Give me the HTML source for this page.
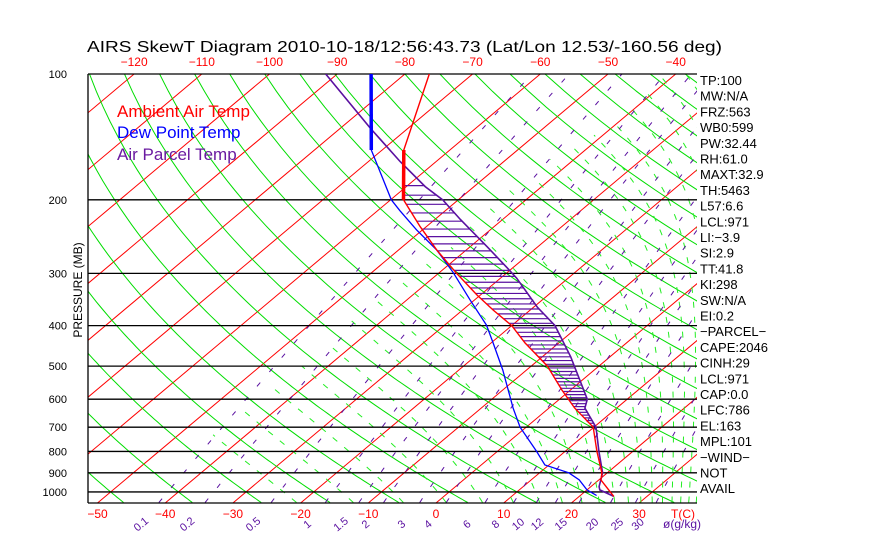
<!DOCTYPE html>
<html><head><meta charset="utf-8"><style>
html,body{margin:0;padding:0;background:#fff;}
svg{display:block;font-family:"Liberation Sans",sans-serif;}
</style></head><body>
<svg id="chart" width="870" height="560" viewBox="0 0 870 560" xmlns="http://www.w3.org/2000/svg">
<defs><clipPath id="plotclip"><rect x="88" y="74" width="609" height="429"/></clipPath></defs>
<text x="87" y="52" font-size="16" textLength="635" lengthAdjust="spacingAndGlyphs">AIRS SkewT Diagram 2010-10-18/12:56:43.73 (Lat/Lon 12.53/-160.56 deg)</text>
<g id="bg" clip-path="url(#plotclip)"></g>
<g id="grid"></g>
<g id="prof" clip-path="url(#plotclip)"></g>
<g id="labels"></g>
<text x="0" y="0" font-size="12" text-anchor="middle" transform="translate(82,290) rotate(-90)">PRESSURE (MB)</text>
<text x="117" y="117" font-size="17" fill="#ff0000">Ambient Air Temp</text>
<text x="117" y="138" font-size="17" fill="#0000ff">Dew Point Temp</text>
<text x="117" y="160" font-size="17" fill="#6a1aa0">Air Parcel Temp</text>
<g id="stats"></g>
</svg>
<script>
const ambP=[100,152,200,232,264,300,338,367,400,440,500,570,630,700,800,900,936,1025];
const ambT=[-76.4,-66.8,-58.1,-50.9,-44.3,-37.3,-30.5,-25.5,-20.0,-15.0,-7.6,-1.3,3.8,9.9,14.7,19.2,20.3,25.1];
const dewP=[100,152,200,212,236,264,299,347,399,440,511,630,700,800,862,900,936,989,1020];
const dewT=[-85.0,-71.6,-59.9,-56.8,-50.9,-44.3,-37.9,-30.7,-23.8,-19.7,-13.5,-5.3,-0.9,5.8,9.4,14.3,17.1,20.0,22.4];
const parP=[100,135,162,186,200,223,259,291,308,361,400,475,600,630,700,800,900,971,989,1025];
const parT=[-91.7,-75.5,-65.3,-57.2,-52.3,-46.2,-37.5,-30.8,-27.6,-19.5,-13.6,-5.8,4.1,5.3,10.3,15.0,19.3,21.2,21.9,25.1];
const pLevels=[100,200,300,400,500,600,700,800,900,1000];
const bottomTicks=[-50,-40,-30,-20,-10,0,10,20,30];
const topTicks=[-120,-110,-100,-90,-80,-70,-60,-50,-40];
const mixRatios=[0.1,0.2,0.5,1,1.5,2,3,4,6,8,10,12,15,20,25,30];
const mixLabels=["0.1","0.2","0.5","1","1.5","2","3","4","6","8","10","12","15","20","25","30"];
const statLines=["TP:100","MW:N/A","FRZ:563","WB0:599","PW:32.44","RH:61.0","MAXT:32.9","TH:5463","L57:6.6","LCL:971","LI:\u22123.9","SI:2.9","TT:41.8","KI:298","SW:N/A","EI:0.2","\u2212PARCEL\u2212","CAPE:2046","CINH:29","LCL:971","CAP:0.0","LFC:786","EL:163","MPL:101","\u2212WIND\u2212"," NOT"," AVAIL"];

const NS="http://www.w3.org/2000/svg";
const Y0=74,YB=503,SC=181.5,X0=436,DX=6.77,SK=1.19;
function yP(p){return Y0+SC*Math.log(p/100);}
function xT(t,y){return X0+DX*t+(YB-y)*SK;}
function mk(tag,parent,attrs){const e=document.createElementNS(NS,tag);for(const k in attrs)e.setAttribute(k,attrs[k]);parent.appendChild(e);return e;}
function pathFrom(pts){return pts.map((q,i)=>(i?'L':'M')+q[0].toFixed(1)+' '+q[1].toFixed(1)).join(' ');}
const bg=document.getElementById('bg'),grid=document.getElementById('grid'),prof=document.getElementById('prof'),labels=document.getElementById('labels'),stats=document.getElementById('stats');

for(let t=-170;t<=50;t+=10){
  const l=mk('line',bg,{x1:xT(t,YB),y1:YB,x2:xT(t,Y0),y2:Y0,stroke:'#ff0000','stroke-width':1});
  
  
}
for(let n=-12;n<=22;n++){
  const th=273.15+10*n;const pts=[];
  for(let p=1060;p>=95;p-=10){const T=th*Math.pow(p/1000,0.286)-273.15;const y=yP(p);pts.push([xT(T,y),y]);}
  const e=mk('path',bg,{d:pathFrom(pts),fill:'none',stroke:'#00dd00','stroke-width':1});
  
  
}
function esat(tc){return 6.112*Math.exp(17.67*tc/(tc+243.5));}
function thetaE(tc,p){const T=tc+273.15;const e=esat(tc);const rs=0.622*e/Math.max(p-e,1);return T*Math.pow(1000/p,0.286)*Math.exp(2.5e6*rs/(1004*T));}
function solveTE(te,p){let lo=-150,hi=50;for(let i=0;i<50;i++){const m=(lo+hi)/2;if(thetaE(m,p)<te)lo=m;else hi=m;}return (lo+hi)/2;}
for(let te=250;te<=460;te+=10){
  const pts=[];
  for(let p=1060;p>=95;p-=10){const T=solveTE(te,p);if(T<-45)break;const y=yP(p);pts.push([xT(T,y),y]);}
  if(pts.length<2)continue;
  const e=mk('path',bg,{d:pathFrom(pts),fill:'none',stroke:'#22ee22','stroke-width':1,'stroke-dasharray':'6,9'});
  
  
}
function mixT(w,p){const ww=w/1000;const e=ww*p/(0.622+ww);const L=Math.log(e/6.112);return 243.5*L/(17.67-L);}
mixRatios.forEach((w,i)=>{
  const pts=[];
  for(let p=1060;p>=95;p-=10){const T=mixT(w,p);const y=yP(p);pts.push([xT(T,y),y]);}
  const e=mk('path',bg,{d:pathFrom(pts),fill:'none',stroke:'#5a10a0','stroke-width':1,'stroke-dasharray':'5,14'});
  
  
  const yb=yP(1050);const xb=xT(mixT(w,1050),yb)-17;
  const tx=mk('text',labels,{x:0,y:0,'font-size':11,fill:'#5a10a0','text-anchor':'middle',transform:'translate('+xb.toFixed(1)+',527) rotate(-40)'});
  tx.textContent=mixLabels[i];
  
  
});
const ml=mk('text',labels,{x:663,y:528,'font-size':12,fill:'#5a10a0'});ml.textContent='\u00f8(g/kg)';



pLevels.forEach(p=>{
  const y=yP(p);
  const l=mk('line',grid,{x1:88,y1:y,x2:697,y2:y,stroke:'#000','stroke-width':1.3});
  
  
  const t=mk('text',labels,{x:67,y:y+4,'font-size':11,'text-anchor':'end'});t.textContent=p;
  
  
});
const lb=mk('line',grid,{x1:88,y1:74,x2:88,y2:503,stroke:'#000','stroke-width':1.3});


const bb=mk('line',grid,{x1:88,y1:503,x2:697,y2:503,stroke:'#000','stroke-width':1.3});



bottomTicks.forEach(t=>{
  const e=mk('text',labels,{x:xT(t,YB),y:518,'font-size':12,fill:'#ff0000','text-anchor':'middle'});e.textContent=t<0?'\u2212'+(-t):t;
  
  
});
const tc=mk('text',labels,{x:683,y:518,'font-size':12,fill:'#ff0000','text-anchor':'middle'});tc.textContent='T(C)';


topTicks.forEach(t=>{
  const e=mk('text',labels,{x:xT(t,Y0),y:66,'font-size':12,fill:'#ff0000','text-anchor':'middle'});e.textContent='\u2212'+(-t);
  
  
});

function interp(P,T,p){const lp=Math.log(p);for(let i=0;i<P.length-1;i++){const a=Math.log(P[i]),b=Math.log(P[i+1]);if(lp>=a&&lp<=b){return T[i]+(T[i+1]-T[i])*(lp-a)/(b-a);}}return null;}
for(let p=705;p>=180;p-=10){
  const a=interp(ambP,ambT,p),b=interp(parP,parT,p);if(a===null||b===null||b<=a)continue;
  const y=yP(p);
  const h=mk('line',prof,{x1:xT(a,y),y1:y,x2:xT(b,y),y2:y,stroke:'#5a10a0','stroke-width':1.2});
  
  
}
function series(P,T){return P.map((p,i)=>{const y=yP(p);return [xT(T[i],y),y];});}
const aPts=series(ambP,ambT),dPts=series(dewP,dewT),pPts=series(parP,parT);
const pl=mk('path',prof,{d:pathFrom(pPts),fill:'none',stroke:'#5a10a0','stroke-width':1.6});


const dl=mk('path',prof,{d:pathFrom(dPts),fill:'none',stroke:'#0000ff','stroke-width':1.3});


const dth=mk('path',prof,{d:pathFrom(dPts.slice(0,2)),fill:'none',stroke:'#0000ff','stroke-width':3.5});


const al=mk('path',prof,{d:pathFrom(aPts),fill:'none',stroke:'#ff0000','stroke-width':1.4});


const ath=mk('path',prof,{d:pathFrom(aPts.slice(1,3)),fill:'none',stroke:'#ff0000','stroke-width':3.5});



statLines.forEach((s,i)=>{
  const t=mk('text',stats,{x:700,y:85+i*15.7,'font-size':13});t.textContent=s;
  
  
});
</script>
</body></html>
